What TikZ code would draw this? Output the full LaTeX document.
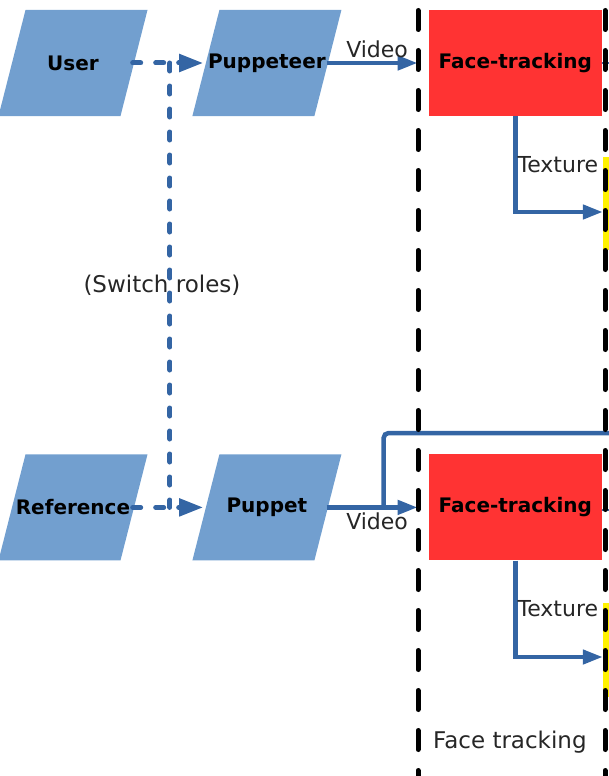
\documentclass[tikz,border=0pt]{standalone}
\usepackage{fontspec}
\setmainfont{DejaVu Sans}
\usetikzlibrary{calc,positioning,arrows.meta}

\definecolor{ioblue}{HTML}{729FCF}
\definecolor{linkblue}{HTML}{3465A4}
\definecolor{trackred}{HTML}{FF3333}

\begin{document}
\begin{tikzpicture}[x=1pt,y=-1pt,node distance=44.5pt,>={Triangle[length=20pt,width=14pt]},
    io/.style={rectangle,minimum width=149pt,minimum height=106pt,inner sep=0pt,
        path picture={\fill[ioblue] (path picture bounding box.south west) -- ++(122,0)
            -- (path picture bounding box.north east) -- ++(-122,0) -- cycle;},
        font=\fontsize{20}{24}\selectfont\bfseries},
    tracker/.style={rectangle,fill=trackred,minimum width=173pt,minimum height=106pt,inner sep=0pt,
        font=\fontsize{20}{24}\selectfont\bfseries},
    lbl/.style={font=\fontsize{22}{26}\selectfont,text=black!85},
    link/.style={draw=linkblue,line width=4.5pt},
    switch/.style={draw=linkblue,line width=5pt,line cap=round,dash pattern=on 8pt off 15pt},
    border/.style={draw=black,line width=5pt,line cap=round,dash pattern=on 19pt off 21pt,dash phase=29.5pt}]
    \useasboundingbox (0,0) rectangle (609,776);
    %
    \node[fill=yellow,minimum width=38pt,minimum height=93pt,inner sep=0pt] (YelTop) at (622,203.5) {};
    \node[fill=yellow,minimum width=38pt,minimum height=94pt,inner sep=0pt] (YelBot) at (622,650) {};
    %
    \node[io] (User) at (73,63) {User};
    \node[io, right = of User] (Puppeteer) {Puppeteer};
    \node[io, below = 338pt of User] (Reference) {Reference};
    \node[io, right = of Reference] (Puppet) {Puppet};
    \node[tracker, right = 87pt of Puppeteer] (FaceTop) {Face-tracking};
    \node[tracker, right = 87pt of Puppet] (FaceBot) {Face-tracking};
    \node[lbl, font=\fontsize{23}{27}\selectfont, anchor=west, inner sep=0pt] (group) at (433,742) {Face tracking};
    %
    \coordinate (swTop) at ($(User.east)!0.5!(Puppeteer.west)$);
    \coordinate (swBot) at ($(Reference.east)!0.5!(Puppet.west)$);
    \coordinate (split) at ($(Puppet.east)+(42,0)$);
    \coordinate (farRight) at (620,433);
    %
    \draw[switch,->,>={Triangle[length=24pt,width=17pt]},shorten <=-15pt,shorten >=-11pt] (User) -- (Puppeteer);
    \draw[switch,->,>={Triangle[length=24pt,width=17pt]},shorten <=-15pt,shorten >=-11pt] (Reference) -- (Puppet);
    \draw[switch] (swTop) -- node[lbl,font=\fontsize{23}{27}\selectfont,xshift=-8pt]{(Switch roles)} (swBot);
    %
    \draw[link,->,shorten <=-15pt,shorten >=11pt] (Puppeteer) -- node[lbl,above,xshift=-8pt]{Video} (FaceTop);
    \draw[link,->,shorten <=-15pt,shorten >=11pt] (Puppet) -- node[lbl,below,xshift=-8pt]{Video} (FaceBot);
    \draw[link,rounded corners=5pt] (split) |- (farRight);
    %
    \draw[link,->] (FaceTop.south) |- node[lbl,anchor=west,inner sep=0pt,pos=0.255]{Texture} ([yshift=-8.5pt]YelTop.west);
    \draw[link,->] (FaceBot.south) |- node[lbl,anchor=west,inner sep=0pt,pos=0.25]{Texture} ([yshift=-7pt]YelBot.west);
    \draw[linkblue,line width=2pt] (FaceTop.east) -- ++(12,0);
    \draw[linkblue,line width=2pt] ([yshift=-3pt]FaceBot.east) -- ++(12,0);
    %
    \draw[border] (418,0) -- (418,776);
    \draw[border] (605,0) -- (605,776);
\end{tikzpicture}
\end{document}
